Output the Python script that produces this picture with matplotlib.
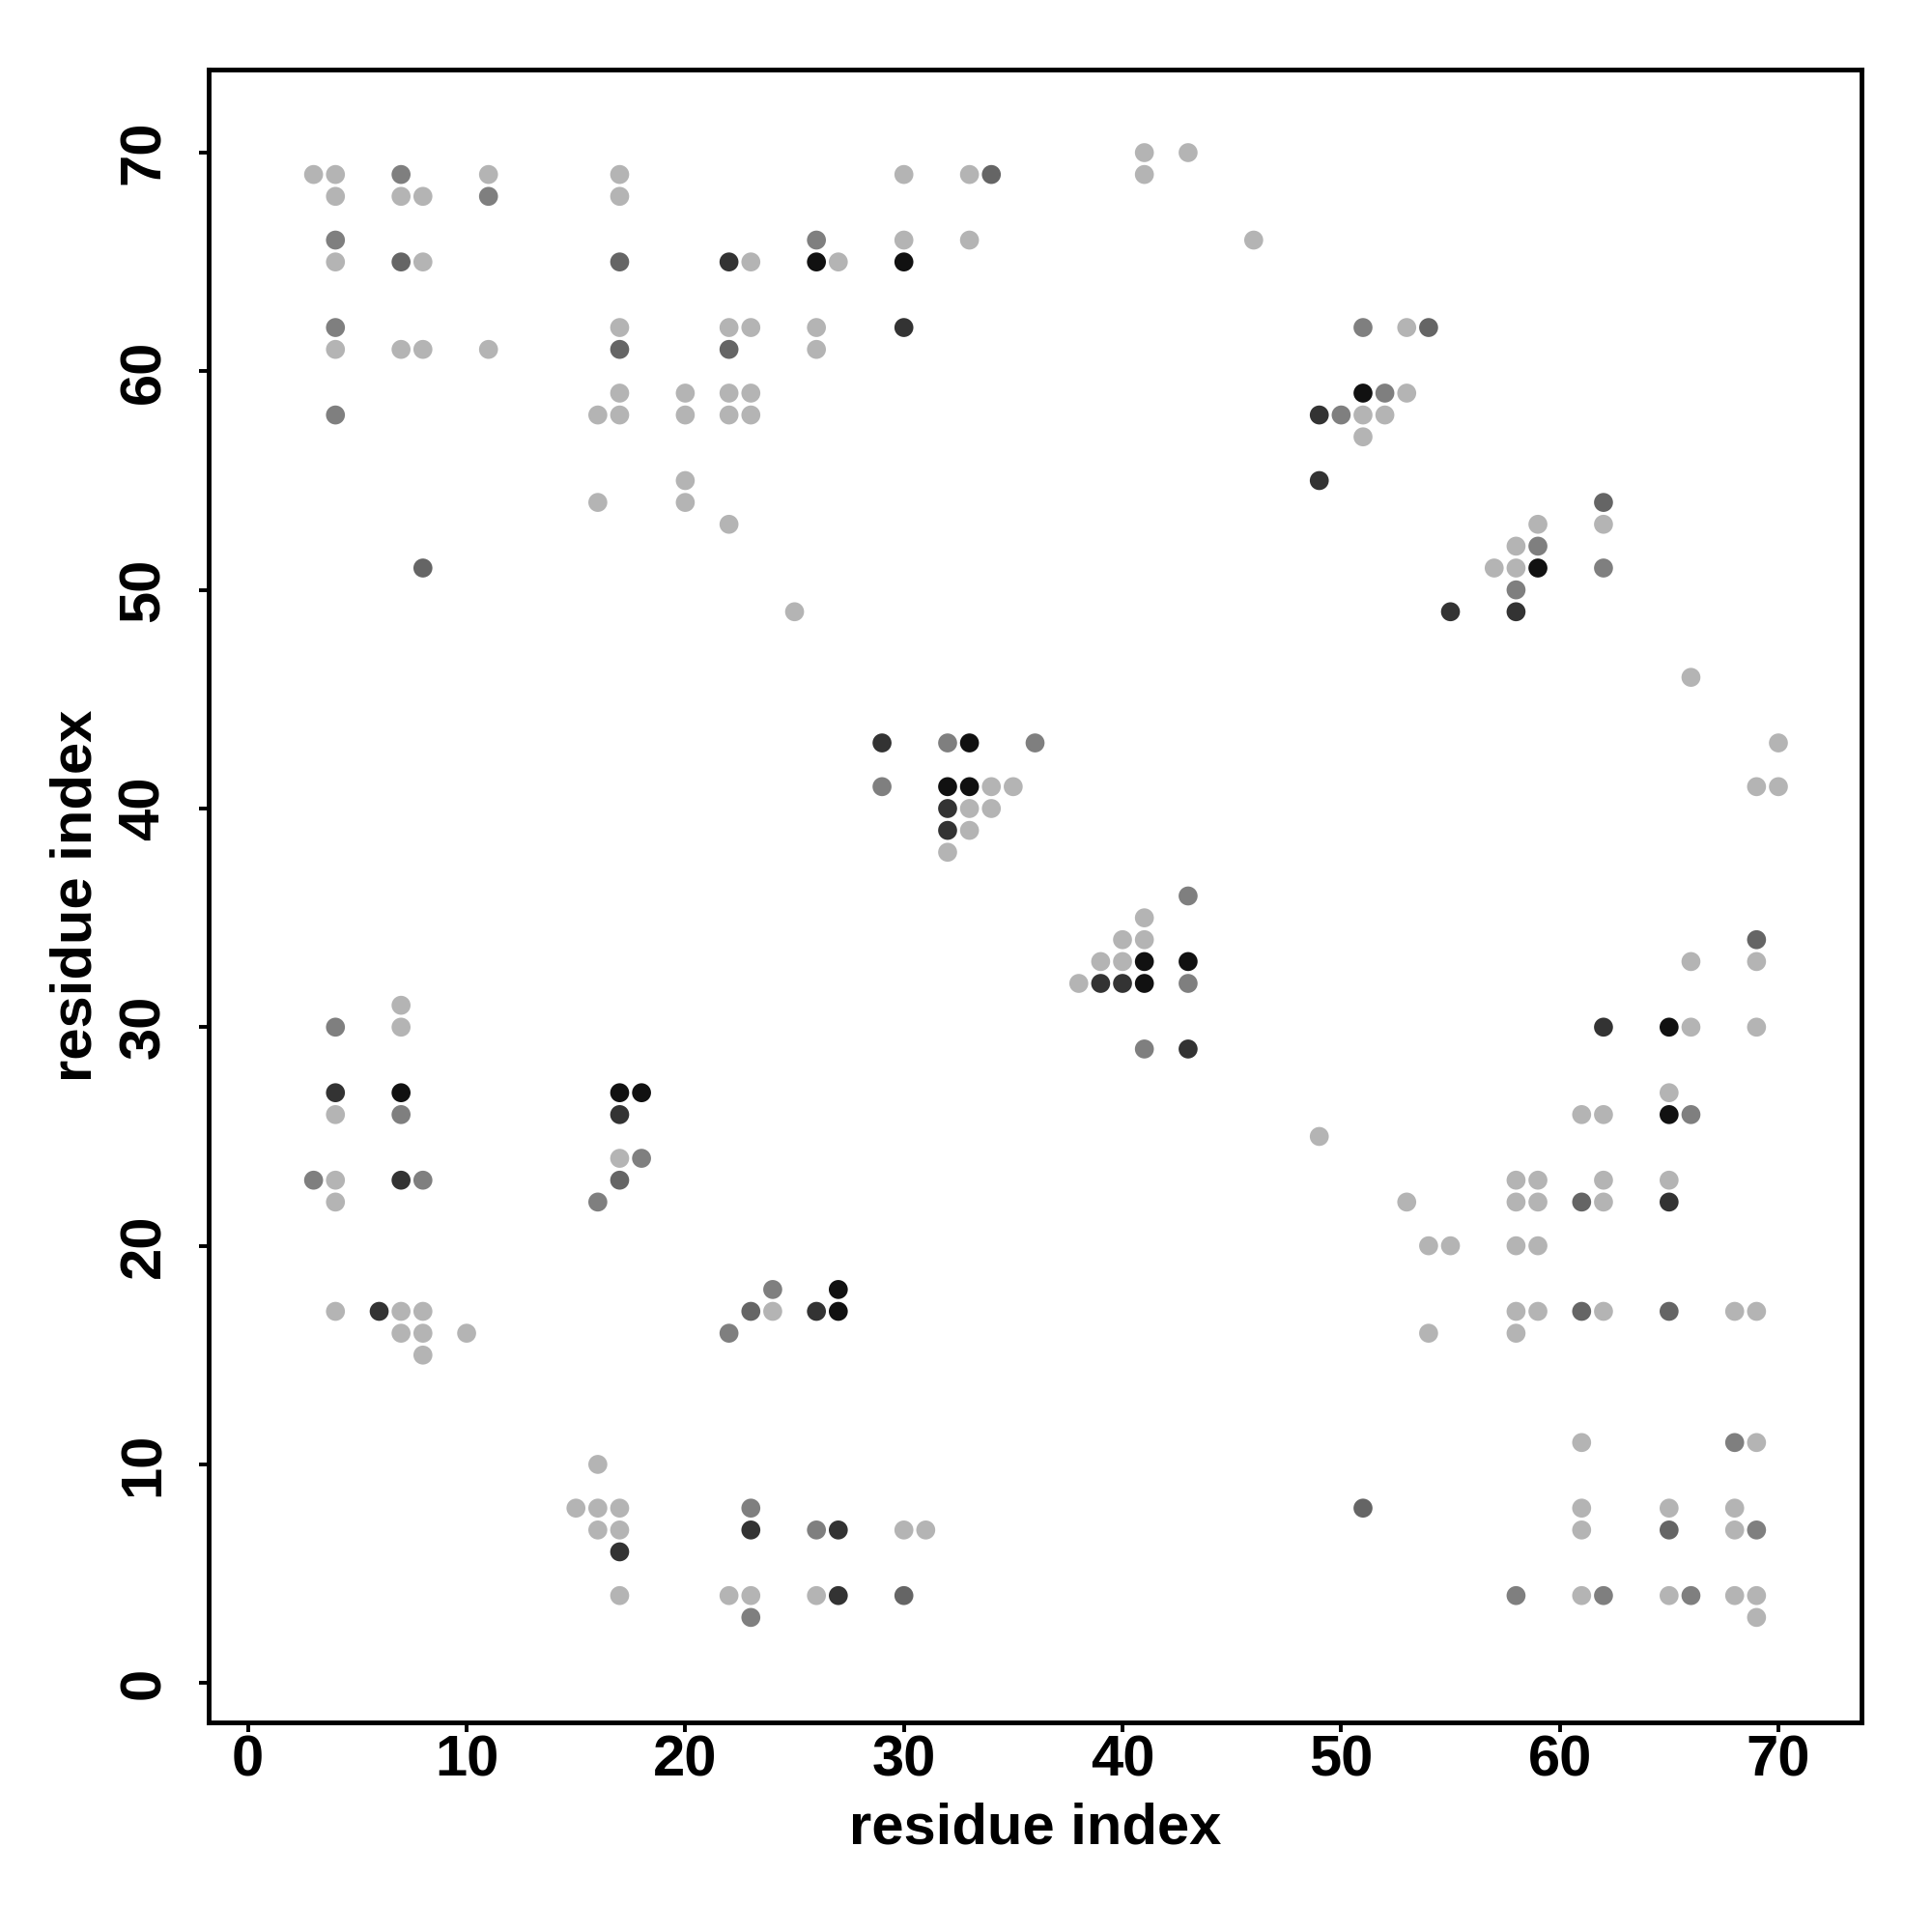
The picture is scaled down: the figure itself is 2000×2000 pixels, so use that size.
import matplotlib
matplotlib.use("Agg")
import matplotlib.pyplot as plt

# contact map points, grouped by gray level (light -> black)
light_i = [3, 4, 4, 4, 4, 4, 4, 4, 4,
           7, 7, 7, 7, 7, 7, 8, 8, 8, 8, 8, 8, 10, 11, 11,
           15, 16, 16, 16, 16, 16, 17, 17, 17, 17, 17, 17, 17, 17, 17,
           20, 20, 20, 20, 22, 22, 22, 22, 22, 23, 23, 23, 23, 23,
           24, 25, 26, 26, 26, 27, 30, 30, 30, 31,
           32, 33, 33, 33, 33, 34, 34, 35,
           38, 39, 40, 40, 41, 41, 41, 41, 43, 46, 49,
           51, 51, 52, 53, 53, 53, 54, 54, 55,
           57, 58, 58, 58, 58, 58, 58, 58, 59, 59, 59, 59, 59,
           61, 61, 61, 61, 61, 62, 62, 62, 62, 62,
           65, 65, 65, 65, 66, 66, 66, 68, 68, 68, 68,
           69, 69, 69, 69, 69, 69, 69, 70, 70]
light_j = [69, 69, 68, 65, 61, 26, 23, 22, 17,
           68, 61, 31, 30, 17, 16, 68, 65, 61, 17, 16, 15, 16, 69, 61,
           8, 58, 54, 10, 8, 7, 69, 68, 62, 59, 58, 24, 8, 7, 4,
           59, 58, 55, 54, 62, 59, 58, 53, 4, 65, 62, 59, 58, 4,
           17, 49, 62, 61, 4, 65, 69, 66, 7, 7,
           38, 69, 66, 40, 39, 41, 40, 41,
           32, 33, 34, 33, 70, 69, 35, 34, 70, 66, 25,
           58, 57, 58, 62, 59, 22, 20, 16, 20,
           51, 52, 51, 23, 22, 20, 17, 16, 53, 23, 22, 20, 17,
           26, 11, 8, 7, 4, 53, 26, 23, 22, 17,
           27, 23, 8, 4, 46, 33, 30, 17, 8, 7, 4,
           41, 33, 30, 17, 11, 4, 3, 43, 41]

mid_i = [3, 4, 4, 4, 4, 7, 7, 8, 11, 16, 18, 22, 23, 23, 24, 26, 26,
         29, 32, 36, 41, 43, 43, 50, 51, 52, 58, 58, 59, 62, 62, 66, 66, 68, 69]
mid_j = [23, 66, 62, 58, 30, 69, 26, 23, 68, 22, 24, 16, 8, 3, 18, 66, 7,
         41, 43, 43, 29, 36, 32, 58, 62, 59, 50, 4, 52, 51, 4, 26, 4, 11, 7]

dim_i = [7, 8, 17, 17, 17, 22, 23, 30, 34, 51, 54, 61, 61, 62, 65, 65, 69]
dim_j = [65, 51, 65, 61, 23, 61, 17, 4, 69, 8, 62, 22, 17, 54, 17, 7, 34]

dark_i = [4, 6, 7, 17, 17, 22, 23, 26, 27, 27, 29, 30, 32, 32,
          39, 40, 43, 49, 49, 55, 58, 62, 65]
dark_j = [27, 17, 23, 26, 6, 65, 7, 17, 7, 4, 43, 62, 40, 39,
          32, 32, 29, 58, 55, 49, 49, 30, 22]

black_i = [7, 17, 18, 26, 27, 27, 30, 32, 33, 33, 41, 41, 43, 51, 59, 65, 65]
black_j = [27, 27, 27, 65, 18, 17, 65, 41, 43, 41, 33, 32, 33, 59, 51, 30, 26]

levels = [
    (light_i, light_j, '#b4b4b4'),
    (mid_i, mid_j, '#7f7f7f'),
    (dim_i, dim_j, '#656565'),
    (dark_i, dark_j, '#333333'),
    (black_i, black_j, '#111111'),
]

plt.rcParams['font.family'] = ['Liberation Sans', 'DejaVu Sans']
plt.rcParams['font.weight'] = 'bold'

fig = plt.figure(figsize=(20, 20), dpi=100)
ax = fig.add_axes([0.108, 0.1085, 0.8555, 0.8555])

for xi, yj, col in levels:
    ax.scatter(xi, yj, s=200, c=col, edgecolors='none')

ax.set_xlim(-1.8, 73.8)
ax.set_ylim(-1.8, 73.8)
ax.set_xticks(range(0, 71, 10))
ax.set_yticks(range(0, 71, 10))

for sp in ax.spines.values():
    sp.set_linewidth(3.5)

ax.tick_params(axis='both', direction='out', length=7, width=2.8, labelsize=43)
ax.tick_params(axis='x', pad=2)
ax.tick_params(axis='y', pad=21)
for lab in ax.get_yticklabels():
    lab.set_rotation(90)
    lab.set_va('center')
for lab in ax.get_xticklabels() + ax.get_yticklabels():
    lab.set_fontweight('bold')

ax.set_xlabel('residue index', fontsize=43, fontweight='bold')
ax.set_ylabel('residue index', fontsize=43, fontweight='bold')
ax.xaxis.label.set_va('center')
ax.yaxis.label.set_va('center')
ax.xaxis.set_label_coords(0.5, -0.064)
ax.yaxis.set_label_coords(-0.080, 0.5)

fig.savefig('out.png', dpi=100, facecolor='white')
